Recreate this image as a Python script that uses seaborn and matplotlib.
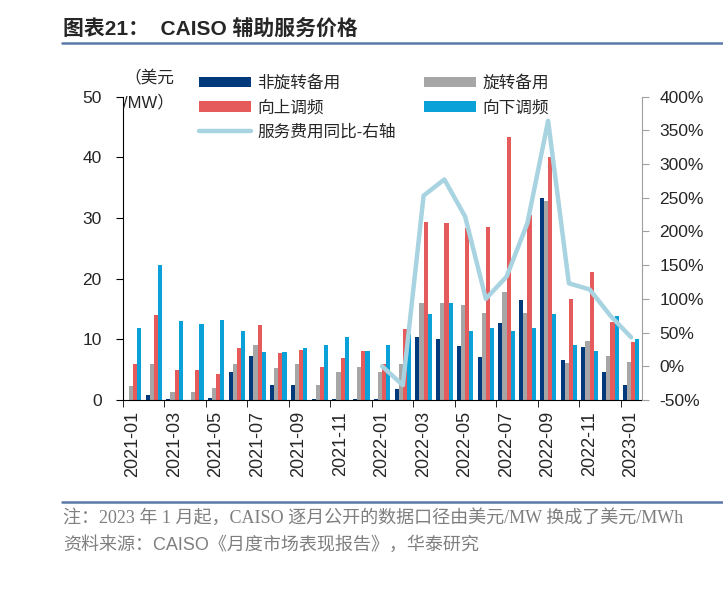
import numpy as np
import pandas as pd
import matplotlib
matplotlib.use("Agg")
import matplotlib.pyplot as plt
import seaborn as sns
from matplotlib.lines import Line2D
from matplotlib.ticker import FuncFormatter

# ── data ──────────────────────────────────────
months = ["2021-01", "2021-02", "2021-03", "2021-04", "2021-05", "2021-06",
          "2021-07", "2021-08", "2021-09", "2021-10", "2021-11", "2021-12",
          "2022-01", "2022-02", "2022-03", "2022-04", "2022-05", "2022-06",
          "2022-07", "2022-08", "2022-09", "2022-10", "2022-11", "2022-12",
          "2023-01"]

non_spin = [0.05, 0.8, 0.2, 0.05, 0.3, 4.6, 7.3, 2.5, 2.5, 0.1, 0.1, 0.1,
            0.1, 1.8, 10.4, 10.1, 8.9, 7.1, 12.7, 16.5, 33.2, 6.6, 8.7, 4.6, 2.4]
spin = [2.3, 5.9, 1.4, 1.3, 2.0, 5.9, 9.1, 5.2, 5.9, 2.4, 4.6, 5.5,
        4.6, 5.9, 16.0, 16.0, 15.6, 14.4, 17.8, 14.4, 32.8, 6.1, 9.8, 7.2, 6.3]
reg_up = [5.9, 14.0, 4.9, 4.9, 4.3, 8.5, 12.3, 7.8, 8.3, 5.5, 6.9, 8.1,
          6.0, 11.7, 29.3, 29.1, 28.3, 28.5, 43.4, 30.4, 40.1, 16.7, 21.1, 12.9, 9.6]
reg_down = [11.9, 22.2, 13.0, 12.5, 13.2, 11.4, 7.9, 7.9, 8.5, 9.1, 10.4, 8.1,
            9.0, 10.8, 14.1, 16.0, 11.4, 11.8, 11.4, 11.9, 14.1, 9.0, 8.0, 13.8, 10.1]

yoy_months = ["2022-01", "2022-02", "2022-03", "2022-04", "2022-05", "2022-06",
              "2022-07", "2022-08", "2022-09", "2022-10", "2022-11", "2022-12",
              "2023-01"]
yoy = [0, -28, 253, 277, 222, 100, 133, 212, 364, 123, 114, 75, 43]

series_names = ["非旋转备用", "旋转备用", "向上调频", "向下调频"]
line_name = "服务费用同比-右轴"
colors = ["#003a7d", "#a6a6a6", "#e55a5a", "#0aa0d8"]
line_color = "#a8d3e1"

df = pd.DataFrame({
    "月份": months * 4,
    "系列": [s for s in series_names for _ in months],
    "价格": non_spin + spin + reg_up + reg_down,
})

# ── style ─────────────────────────────────────
sns.set_style("ticks")
plt.rcParams["font.family"] = ["Liberation Sans", "Noto Sans CJK SC"]
plt.rcParams["axes.unicode_minus"] = False

W, H = 723, 611
fig = plt.figure(figsize=(W / 100, H / 100), dpi=100)
ax = fig.add_axes([122.7 / W, 1 - 400 / H, (641.5 - 122.7) / W, (400 - 96.5) / H])

sns.barplot(data=df, x="月份", y="价格", hue="系列", hue_order=series_names,
            palette=colors, saturation=1, width=0.8, errorbar=None,
            linewidth=0, edgecolor="none", ax=ax)
bar_handles, bar_labels = ax.get_legend_handles_labels()
ax.legend_.remove()

ax2 = ax.twinx()
sns.lineplot(x=[months.index(m) for m in yoy_months], y=yoy, ax=ax2,
             color=line_color, lw=3.2, label=line_name)
line_handles, _ = ax2.get_legend_handles_labels()
ax2.legend_.remove()

# ── axes ──────────────────────────────────────
ax.set_xlim(-0.5, len(months) - 0.5)
ax.set_ylim(0, 50)
ax.set_yticks(range(0, 51, 10))
ax.set_xlabel("")
ax.set_ylabel("")
ax.set_xticks(range(0, len(months), 2))
ax.set_xticklabels(months[::2], rotation=90, fontsize=13)
ax.set_xticks(np.arange(-0.5, len(months) - 1, 2), minor=True)
ax.tick_params(axis="x", which="major", length=0, pad=8)
ax.tick_params(axis="x", which="minor", length=5, color="black")
ax.tick_params(axis="y", labelsize=12.5, length=5, pad=10, color="black")
for s in ["top", "right"]:
    ax.spines[s].set_visible(False)
ax.spines["left"].set_color("black")
ax.spines["bottom"].set_color("black")

ax2.set_ylim(-50, 400)
ax2.set_yticks(range(-50, 401, 50))
ax2.yaxis.set_major_formatter(FuncFormatter(lambda v, _: f"{v:.0f}%"))
ax2.tick_params(axis="y", labelsize=12.5, length=5, pad=8, color="#a0a0a0")
ax2.set_ylabel("")
for s in ["top", "left", "bottom"]:
    ax2.spines[s].set_visible(False)
ax2.spines["right"].set_color("#a0a0a0")

# ── legend ────────────────────────────────────
handles = [bar_handles[0], bar_handles[2], line_handles[0], bar_handles[1], bar_handles[3]]
labels = [series_names[0], series_names[2], line_name, series_names[1], series_names[3]]
fig.legend(handles, labels, loc="upper left", bbox_to_anchor=(199 / W, 1 - 75 / H),
           ncol=2, frameon=False, fontsize=12, handlelength=3.1, handleheight=0.6,
           handletextpad=0.4, labelspacing=0.55, columnspacing=1.7,
           borderpad=0, borderaxespad=0)

# ── texts & rules ─────────────────────────────
fig.text(124 / W, 1 - 78 / H, "（美元", fontsize=12, va="center")
fig.text(123 / W, 1 - 102 / H, "/MW）", fontsize=12, va="center")

fig.text(63 / W, 1 - 29 / H, "图表21：  CAISO 辅助服务价格", fontsize=15,
         fontweight="bold", va="center")
fig.add_artist(Line2D([62 / W, 1], [1 - 42.7 / H] * 2, color="#5b79a8", lw=1.8))
fig.add_artist(Line2D([62 / W, 1], [1 - 501.7 / H] * 2, color="#5b79a8", lw=1.8))

fig.text(63 / W, 1 - 518 / H,
         "注：2023 年 1 月起，CAISO 逐月公开的数据口径由美元/MW 换成了美元/MWh",
         fontsize=13, color="#7f7f7f", va="center",
         family=["Liberation Serif", "Noto Sans CJK SC"])
fig.text(63 / W, 1 - 545 / H, "资料来源：CAISO《月度市场表现报告》，华泰研究",
         fontsize=13, color="#7f7f7f", va="center")

fig.savefig("out.png", dpi=100)
